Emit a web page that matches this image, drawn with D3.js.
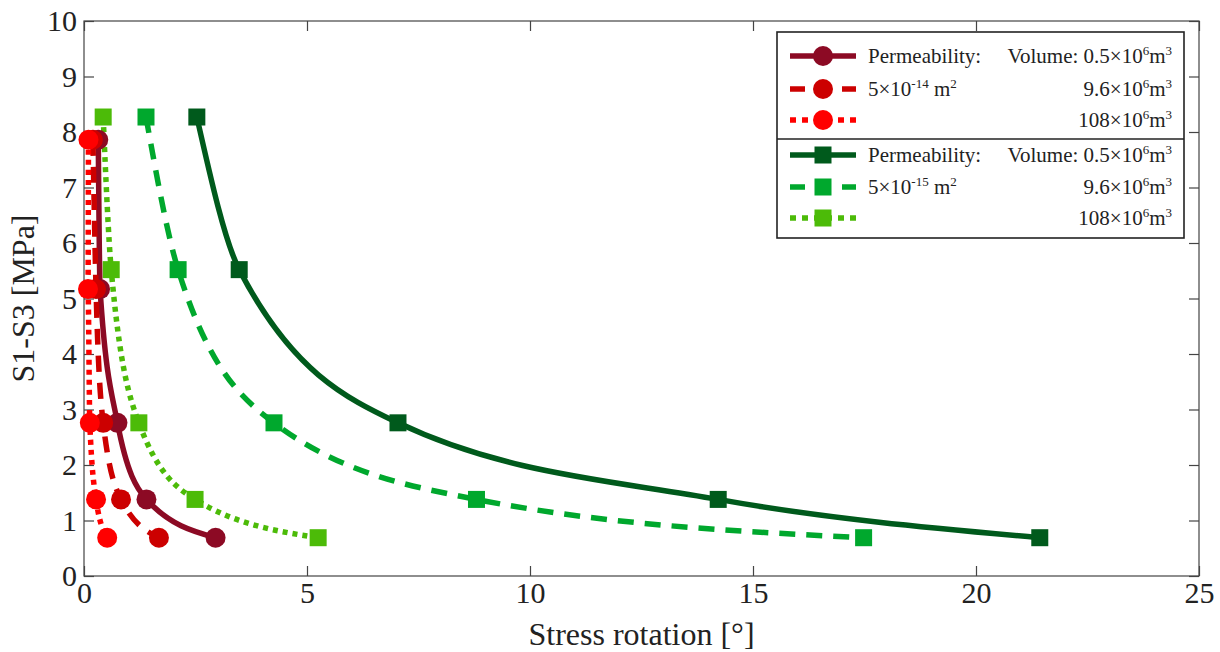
<!DOCTYPE html>
<html>
<head>
<meta charset="utf-8">
<script src="https://cdn.jsdelivr.net/npm/d3@7"></script>
<style>
  body { margin: 0; background: #fff; }
  text { font-family: "Liberation Serif", "DejaVu Serif", serif; fill: #222; }
</style>
</head>
<body>
<script>
// chart size and plot box
var width = 1220;
var height = 652;
var margin = {left: 84, right: 21, top: 21, bottom: 76};

// y values (S1-S3, MPa)
var yCircles = [7.86, 5.17, 2.76, 1.38, 0.69];
var ySquares = [8.27, 5.52, 2.76, 1.38, 0.69];

// x values (stress rotation, degrees)
var xDarkRed  = [0.32, 0.36, 0.75, 1.40, 2.95];
var xRed      = [0.20, 0.27, 0.43, 0.83, 1.68];
var xBrightRed = [0.10, 0.09, 0.13, 0.27, 0.52];
var xDarkGreen  = [2.53, 3.48, 7.04, 14.22, 21.43];
var xGreen      = [1.39, 2.11, 4.26, 8.80, 17.48];
var xLightGreen = [0.43, 0.61, 1.23, 2.49, 5.25];

var xTicks = [0, 5, 10, 15, 20, 25];
var yTicks = [0, 1, 2, 3, 4, 5, 6, 7, 8, 9, 10];

var series = [
  {x: xDarkRed, y: yCircles, color: "#8c0a24", dash: null, marker: "circle"},
  {x: xRed, y: yCircles, color: "#cc0000", dash: "16,11", marker: "circle"},
  {x: xBrightRed, y: yCircles, color: "#ff0000", dash: "5,5", marker: "circle"},
  {x: xDarkGreen, y: ySquares, color: "#005a1c", dash: null, marker: "square"},
  {x: xGreen, y: ySquares, color: "#00a82d", dash: "16,11", marker: "square"},
  {x: xLightGreen, y: ySquares, color: "#4cbb08", dash: "5,5", marker: "square"}
];

var svg = d3.select("body")
  .append("svg")
    .attr("width", width)
    .attr("height", height);

var x = d3.scaleLinear().domain([0, 25]).range([margin.left, width - margin.right]);
var y = d3.scaleLinear().domain([0, 10]).range([height - margin.bottom, margin.top]);

// box
svg.append("rect")
  .attr("x", x(0)).attr("y", y(10))
  .attr("width", x(25) - x(0)).attr("height", y(0) - y(10))
  .attr("fill", "none").attr("stroke", "#444").attr("stroke-width", 1.2);

// ticks on all four sides, pointing inward
var tickLen = 10;
var gx = svg.append("g").attr("transform", "translate(0," + y(0) + ")")
  .call(d3.axisBottom(x).tickValues(xTicks).tickSize(-tickLen).tickPadding(6));
var gxt = svg.append("g").attr("transform", "translate(0," + y(10) + ")")
  .call(d3.axisTop(x).tickValues(xTicks).tickSize(-tickLen).tickFormat(""));
var gy = svg.append("g").attr("transform", "translate(" + x(0) + ",0)")
  .call(d3.axisLeft(y).tickValues(yTicks).tickSize(-tickLen).tickPadding(7));
var gyr = svg.append("g").attr("transform", "translate(" + x(25) + ",0)")
  .call(d3.axisRight(y).tickValues(yTicks).tickSize(-tickLen).tickFormat(""));

[gx, gxt, gy, gyr].forEach(function(g) {
  g.select(".domain").remove();
  g.selectAll("line").attr("stroke", "#444").attr("stroke-width", 1.2);
  g.selectAll("text")
    .style("font-family", "'Liberation Serif', serif")
    .style("font-size", "30px")
    .attr("fill", "#222");
});

// axis labels
svg.append("text")
  .attr("x", (x(0) + x(25)) / 2).attr("y", 645)
  .attr("text-anchor", "middle")
  .style("font-size", "32px")
  .text("Stress rotation [°]");

svg.append("text")
  .attr("transform", "translate(34," + ((y(0) + y(10)) / 2) + ") rotate(-90)")
  .attr("text-anchor", "middle")
  .style("font-size", "32px")
  .text("S1-S3 [MPa]");

var line = d3.line()
  .curve(d3.curveMonotoneX)
  .x(function(d) { return x(d[0]); })
  .y(function(d) { return y(d[1]); });

var plot = svg.append("g");

// draw green first, then red on top
var order = [3, 4, 5, 0, 1, 2];
order.forEach(function(i) {
  var s = series[i];
  var pts = s.x.map(function(v, j) { return [v, s.y[j]]; });
  plot.append("path")
    .datum(pts)
    .attr("d", line)
    .attr("fill", "none")
    .attr("stroke", s.color)
    .attr("stroke-width", 5.5)
    .attr("stroke-dasharray", s.dash);
  drawMarkers(plot, pts.map(function(p) { return [x(p[0]), y(p[1])]; }), s);
});

function drawMarkers(g, pts, s) {
  if (s.marker == "circle") {
    g.selectAll(null).data(pts).enter().append("circle")
      .attr("cx", function(d) { return d[0]; })
      .attr("cy", function(d) { return d[1]; })
      .attr("r", 10)
      .attr("fill", s.color);
  } else {
    g.selectAll(null).data(pts).enter().append("rect")
      .attr("x", function(d) { return d[0] - 8.5; })
      .attr("y", function(d) { return d[1] - 8.5; })
      .attr("width", 17).attr("height", 17)
      .attr("fill", s.color);
  }
}

// legend
var lg = svg.append("g");
lg.append("rect")
  .attr("x", 777).attr("y", 32).attr("width", 407).attr("height", 206)
  .attr("fill", "#fff").attr("stroke", "#222").attr("stroke-width", 1.6);
lg.append("line")
  .attr("x1", 777).attr("x2", 1184).attr("y1", 139).attr("y2", 139)
  .attr("stroke", "#222").attr("stroke-width", 1.6);

var rowY = [56, 89, 120, 155, 187, 218];
var volumes = [["0.5", "Volume: "], ["9.6", ""], ["108", ""]];
var fs = 21, sup = 13;

series.forEach(function(s, i) {
  var ry = rowY[i];
  lg.append("line")
    .attr("x1", 790).attr("x2", 856).attr("y1", ry).attr("y2", ry)
    .attr("stroke", s.color).attr("stroke-width", 5.5)
    .attr("stroke-dasharray", s.dash == null ? null : (s.dash == "5,5" ? "6,6" : "15,37"));
  drawMarkers(lg, [[823, ry]], s);

  var v = volumes[i % 3];
  var t = lg.append("text")
    .attr("x", 1172).attr("y", ry + 7)
    .attr("text-anchor", "end")
    .style("font-size", fs + "px");
  t.append("tspan").text(v[1] + v[0] + "×10");
  t.append("tspan").attr("dy", -8).style("font-size", sup + "px").text("6");
  t.append("tspan").attr("dy", 8).text("m");
  t.append("tspan").attr("dy", -8).style("font-size", sup + "px").text("3");
});

// permeability labels
[[0, "-14"], [3, "-15"]].forEach(function(p) {
  var i = p[0];
  lg.append("text")
    .attr("x", 868).attr("y", rowY[i] + 7)
    .style("font-size", fs + "px")
    .text("Permeability:");
  var t = lg.append("text")
    .attr("x", 868).attr("y", rowY[i + 1] + 7)
    .style("font-size", fs + "px");
  t.append("tspan").text("5×10");
  t.append("tspan").attr("dy", -8).style("font-size", sup + "px").text(p[1]);
  t.append("tspan").attr("dy", 8).text(" m");
  t.append("tspan").attr("dy", -8).style("font-size", sup + "px").text("2");
});
</script>
</body>
</html>
